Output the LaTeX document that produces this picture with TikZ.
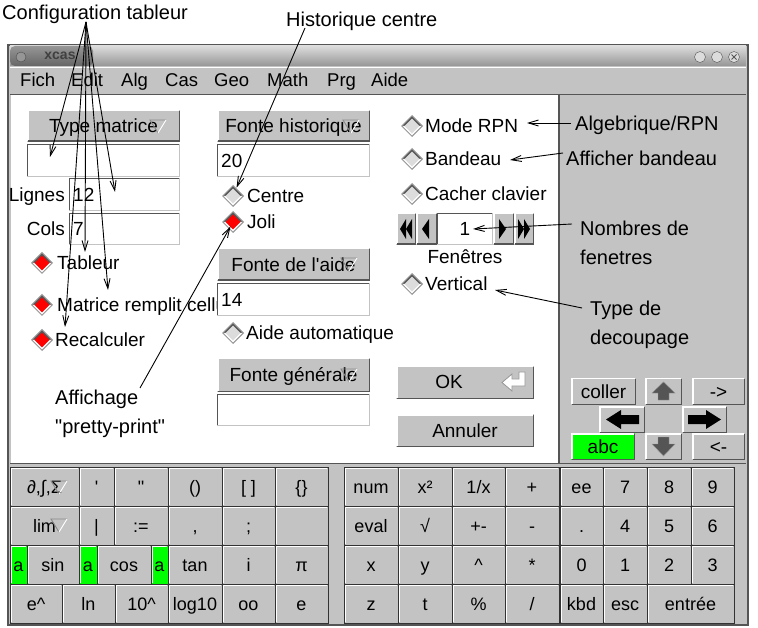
\documentclass[tikz,border=0pt]{standalone}
\usepackage{fontspec}
\setmainfont{Liberation Sans}[Ligatures=TeXOff]
\usetikzlibrary{arrows.meta}
\definecolor{silver}{RGB}{195,195,195}
\definecolor{pale}{RGB}{220,220,220}
\definecolor{ash}{RGB}{150,150,150}
\definecolor{graphite}{RGB}{85,85,85}
\definecolor{neon}{RGB}{0,255,0}
\definecolor{scarlet}{RGB}{255,0,0}
\newcommand{\uifont}{\fontsize{19}{22}\selectfont}
\tikzset{
  ui/.style={font=\uifont, inner sep=0pt, text height=13.6pt, text depth=0pt},
  menu/.style={ui, font=\fontsize{18.5}{22}\selectfont, anchor=west},
  note/.style={font=\fontsize{20}{24}\selectfont, inner sep=0pt, text height=14.3pt, text depth=0pt, anchor=west},
  fleche/.style={-{Straight Barb[length=10pt,width=6pt]}, line width=0.9pt},
}
% bouton en relief : [couleur]{nom}{x1}{y1}{x2}{y2}{texte}
\newcommand{\bouton}[7][silver]{%
  \fill[#1] (#3,#4) rectangle (#5,#6);
  \draw[white, line width=1.5pt] (#3+0.75,#6-0.75) -- (#3+0.75,#4+0.75) -- (#5-0.75,#4+0.75);
  \draw[graphite, line width=1.5pt] (#5-0.75,#4+0.75) -- (#5-0.75,#6-0.75) -- (#3+0.75,#6-0.75);
  \node[ui] (#2) at ({(#3+#5)/2},{(#4+#6)/2}) {#7};}
% touche du clavier
\newcommand{\touche}[7][silver]{%
  \filldraw[fill=#1, draw=black!80, line width=1pt] (#3,#4) rectangle (#5,#6);
  \draw[white, line width=1pt] (#3+1.5,#6-1.5) -- (#3+1.5,#4+1.5) -- (#5-1.5,#4+1.5);
  \node[ui, font=\fontsize{18}{22}\selectfont] (#2) at ({(#3+#5)/2},{(#4+#6)/2}) {#7};}
% champ de saisie
\newcommand{\champ}[6]{%
  \fill[white] (#2,#3) rectangle (#4,#5);
  \draw[graphite, line width=1pt] (#2+0.5,#5) -- (#2+0.5,#3+0.5) -- (#4,#3+0.5);
  \draw[silver, line width=1pt] (#4-0.5,#3) -- (#4-0.5,#5-0.5) -- (#2,#5-0.5);
  \node[ui, anchor=west] (#1) at (#2+4,{(#3+#5)/2}) {#6};}
% bouton radio
\newcommand{\radio}[4]{%
  \fill[ash] (#2-11,#3) -- (#2,#3-11) -- (#2+11,#3) -- (#2,#3+11) -- cycle;
  \fill[#4] (#2-8.5,#3) -- (#2,#3-8.5) -- (#2+8.5,#3) -- (#2,#3+8.5) -- cycle;
  \draw[graphite, line width=1.2pt] (#2-8.5,#3) -- (#2,#3-8.5) -- (#2+8.5,#3);
  \draw[white, line width=1.2pt] (#2+8.5,#3) -- (#2,#3+8.5) -- (#2-8.5,#3);
  \coordinate (#1) at (#2,#3);}
% petit triangle de menu
\newcommand{\menutri}[2]{%
  \draw[graphite!70, line width=0.9pt] (#1,#2+7) -- (#1-8,#2-6) -- (#1+8,#2-6);
  \draw[white, line width=0.9pt] (#1+8,#2-6) -- (#1,#2+7);}

\begin{document}
\begin{tikzpicture}[x=1pt, y=-1pt]
  \useasboundingbox (0,0) rectangle (758,628);
  \fill[white] (0,0) rectangle (758,628);
  % fenetre et barre de titre
  \filldraw[fill=silver, draw=graphite, line width=1.5pt] (8,45) rectangle (748,625);
  \shade[top color=pale, bottom color=ash] (10,46) rectangle (746,66);
  \shade[top color=ash, bottom color=graphite!90, rounded corners=5pt] (10,46) rectangle (93,66);
  \node[font=\fontsize{14}{16}\selectfont\bfseries, text=black!75, inner sep=0pt] (titre) at (60,56) {xcas};
  \filldraw[fill=ash, draw=black!70] (21,57) circle (5);
  \filldraw[fill=pale, draw=graphite] (700,57) circle (5.5);
  \filldraw[fill=pale, draw=graphite] (717,57) circle (5.5);
  \filldraw[fill=pale, draw=graphite] (734,57) circle (5.5);
  \draw[graphite, line width=0.8pt] (731.5,54.5) -- (736.5,59.5) (731.5,59.5) -- (736.5,54.5);
  % menu
  \draw[white] (10,67) -- (746,67);
  \draw[graphite, line width=1.2pt] (10,94.5) -- (746,94.5);
  \node[menu] (fich) at (20,80) {Fich};
  \node[menu] (edit) at (71,80) {Edit};
  \node[menu] (alg) at (121,80) {Alg};
  \node[menu] (cas) at (165,80) {Cas};
  \node[menu] (geo) at (214,80) {Geo};
  \node[menu] (math) at (267,80) {Math};
  \node[menu] (prg) at (327,80) {Prg};
  \node[menu] (aide) at (371,80) {Aide};
  % zone de configuration
  \fill[white] (11,95.5) rectangle (559,463);
  \draw[graphite, line width=1.2pt] (559,95) -- (559,463);
  \draw[graphite, line width=1pt] (10,463.5) -- (746,463.5);
  % colonne tableur
  \bouton{typemat}{27}{110}{180}{142}{Type matrice}
  \menutri{158}{126}
  \champ{typef}{27}{144}{180}{177}{}
  \node[ui, anchor=east] (lignes) at (65,195) {Lignes};
  \champ{lignesf}{69}{178}{180}{211}{12}
  \node[ui, anchor=east] (cols) at (65,229) {Cols};
  \champ{colsf}{69}{213}{180}{245}{7}
  \radio{rtableur}{42}{263}{scarlet}
  \node[ui, anchor=west] (tableur) at (57,263) {Tableur};
  \radio{rmatrice}{42}{305}{scarlet}
  \begin{scope}
    \clip (11,290) rectangle (216,320);
    \node[ui, anchor=west] (matrice) at (57,305) {Matrice remplit cellules};
  \end{scope}
  \radio{rrecalc}{42}{340}{scarlet}
  \node[ui, anchor=west] (recalc) at (55,340) {Recalculer};
  % colonne fontes
  \bouton{fhist}{217}{110}{370}{142}{Fonte historique}
  \menutri{351}{126}
  \champ{fhistf}{217}{144}{370}{177}{20}
  \radio{rcentre}{233}{196}{pale}
  \node[ui, anchor=west] (centre) at (247,196) {Centre};
  \radio{rjoli}{233}{222}{scarlet}
  \node[ui, anchor=west] (joli) at (247,222) {Joli};
  \bouton{faide}{217}{248}{370}{281}{Fonte de l'aide}
  \menutri{349}{264}
  \champ{faidef}{217}{283}{370}{316}{14}
  \radio{rauto}{233}{333}{pale}
  \node[ui, anchor=west] (auto) at (246,333) {Aide automatique};
  \bouton{fgen}{217}{358}{370}{392}{Fonte générale}
  \menutri{349}{375}
  \champ{fgenf}{217}{394}{370}{426}{}
  % colonne options
  \radio{rrpn}{412}{126}{pale}
  \node[ui, anchor=west] (rpn) at (425,126) {Mode RPN};
  \radio{rbandeau}{412}{159}{pale}
  \node[ui, anchor=west] (bandeau) at (425,159) {Bandeau};
  \radio{rcacher}{412}{194}{pale}
  \node[ui, anchor=west] (cacher) at (425,194) {Cacher clavier};
  \bouton{premier}{396}{213}{416}{245}{}
  \bouton{avant}{416}{213}{437}{245}{}
  \champ{nbf}{437}{213}{493}{245}{}
  \node[ui] (un) at (465,229) {1};
  \bouton{apres}{493}{213}{514}{245}{}
  \bouton{dernier}{514}{213}{534}{245}{}
  \fill (400,229) -- (406,219) -- (406,239) -- cycle;
  \fill (406,229) -- (412,219) -- (412,239) -- cycle;
  \fill (422,229) -- (429,219) -- (429,239) -- cycle;
  \fill (506,229) -- (499,219) -- (499,239) -- cycle;
  \fill (524,229) -- (518,219) -- (518,239) -- cycle;
  \fill (530,229) -- (524,219) -- (524,239) -- cycle;
  \node[ui] (fenetres) at (465,257) {Fenêtres};
  \radio{rvertical}{412}{284}{pale}
  \node[ui, anchor=west] (vertical) at (425,284) {Vertical};
  \bouton{ok}{396}{366}{534}{399}{}
  \node[ui] (oktxt) at (449,382) {OK};
  \draw[ash, fill=white, line width=0.8pt] (525,372) -- (525,386) -- (512,386) -- (512,391) -- (502,382.5) -- (512,374) -- (512,379) -- (519,379) -- (519,372) -- cycle;
  \bouton{annuler}{396}{414}{534}{447}{Annuler}
  % panneau de droite
  \bouton{coller}{571}{378}{636}{405}{coller}
  \bouton{haut}{645}{378}{682}{405}{}
  \bouton{vadroite}{692}{378}{745}{405}{->}
  \bouton{gauche}{599}{406}{645}{433}{}
  \bouton{droite}{682}{406}{727}{433}{}
  \bouton[neon]{abc}{571}{433}{635}{460}{abc}
  \bouton{bas}{645}{433}{682}{460}{}
  \bouton{vagauche}{692}{433}{745}{460}{<-}
  \filldraw[fill=graphite, draw=ash] (658,400) -- (658,393) -- (652,393) -- (663.5,382) -- (675,393) -- (669,393) -- (669,400) -- cycle;
  \filldraw[fill=graphite, draw=ash] (658,437) -- (658,444) -- (652,444) -- (663.5,456) -- (675,444) -- (669,444) -- (669,437) -- cycle;
  \fill[black] (639,415) -- (621,415) -- (621,410) -- (606,419.5) -- (621,429) -- (621,424) -- (639,424) -- cycle;
  \fill[black] (688,415) -- (706,415) -- (706,410) -- (721,419.5) -- (706,429) -- (706,424) -- (688,424) -- cycle;
  % clavier, rangee 1
  \touche{kdiff}{10}{467}{79}{506}{∂,∫,Σ\hspace{6pt}}
  \menutri{59}{487}
  \touche{kquote}{79}{467}{114}{506}{'}
  \touche{kdquote}{114}{467}{168}{506}{"}
  \touche{kpar}{168}{467}{222}{506}{()}
  \touche{kcroch}{222}{467}{275}{506}{[ ]}
  \touche{kacc}{275}{467}{328}{506}{\{\}}
  \touche{knum}{344}{467}{398}{506}{num}
  \touche{kcarre}{398}{467}{452}{506}{x²}
  \touche{kinv}{452}{467}{505}{506}{1/x}
  \touche{kplus}{505}{467}{559}{506}{+}
  \touche{kee}{560}{467}{603}{506}{ee}
  \touche{ksept}{603}{467}{647}{506}{7}
  \touche{khuit}{647}{467}{691}{506}{8}
  \touche{kneuf}{691}{467}{734}{506}{9}
  % rangee 2
  \touche{klim}{10}{506}{79}{545}{lim\hspace{12pt}}
  \menutri{59}{525}
  \touche{kbarre}{79}{506}{114}{545}{|}
  \touche{kaff}{114}{506}{168}{545}{:=}
  \touche{kvirg}{168}{506}{222}{545}{,}
  \touche{kpvirg}{222}{506}{275}{545}{;}
  \touche{kvide}{275}{506}{328}{545}{}
  \touche{keval}{344}{506}{398}{545}{eval}
  \touche{kracine}{398}{506}{452}{545}{√}
  \touche{kpm}{452}{506}{505}{545}{+-}
  \touche{kmoins}{505}{506}{559}{545}{-}
  \touche{kpoint}{560}{506}{603}{545}{.}
  \touche{kquatre}{603}{506}{647}{545}{4}
  \touche{kcinq}{647}{506}{691}{545}{5}
  \touche{ksix}{691}{506}{734}{545}{6}
  % rangee 3
  \touche[neon]{kasin}{10}{545}{27}{584}{a}
  \touche{ksin}{27}{545}{79}{584}{sin}
  \touche[neon]{kacos}{79}{545}{97}{584}{a}
  \touche{kcos}{97}{545}{151}{584}{cos}
  \touche[neon]{katan}{151}{545}{168}{584}{a}
  \touche{ktan}{168}{545}{222}{584}{tan}
  \touche{ki}{222}{545}{275}{584}{i}
  \touche{kpi}{275}{545}{328}{584}{π}
  \touche{kx}{344}{545}{398}{584}{x}
  \touche{ky}{398}{545}{452}{584}{y}
  \touche{kpuiss}{452}{545}{505}{584}{\textasciicircum}
  \touche{kfois}{505}{545}{559}{584}{*}
  \touche{kzero}{560}{545}{603}{584}{0}
  \touche{kun}{603}{545}{647}{584}{1}
  \touche{kdeux}{647}{545}{691}{584}{2}
  \touche{ktrois}{691}{545}{734}{584}{3}
  % rangee 4
  \touche{kexp}{10}{584}{62}{623}{e\textasciicircum}
  \touche{kln}{62}{584}{115}{623}{ln}
  \touche{kdix}{115}{584}{168}{623}{10\textasciicircum}
  \touche{klog}{168}{584}{222}{623}{log10}
  \touche{kinf}{222}{584}{275}{623}{oo}
  \touche{ke}{275}{584}{328}{623}{e}
  \touche{kz}{344}{584}{398}{623}{z}
  \touche{kt}{398}{584}{452}{623}{t}
  \touche{kpct}{452}{584}{505}{623}{\%}
  \touche{kdiv}{505}{584}{559}{623}{/}
  \touche{kkbd}{560}{584}{603}{623}{kbd}
  \touche{kesc}{603}{584}{647}{623}{esc}
  \touche{kentree}{647}{584}{734}{623}{entrée}
  % annotations
  \node[note] (conftab) at (2,12) {Configuration tableur};
  \node[note] (histo) at (286,19) {Historique centre};
  \node[note] (algrpn) at (575,123) {Algebrique/RPN};
  \node[note] (affband) at (566,158) {Afficher bandeau};
  \node[note] (nbfen) at (580,228) {Nombres de};
  \node[note] (nbfenb) at (580,257) {fenetres};
  \node[note] (typdec) at (590,308) {Type de};
  \node[note] (typdecb) at (590,337) {decoupage};
  \node[note] (affpp) at (55,397) {Affichage};
  \node[note] (affppb) at (55,426) {"pretty-print"};
  \coordinate (confpt) at (86,22);
  \coordinate (c1) at (50,157);
  \coordinate (c2) at (115,192);
  \coordinate (c3) at (85,252);
  \coordinate (c4) at (108,290);
  \coordinate (c5) at (65,327);
  \coordinate (histpt) at (305,28);
  \coordinate (rpnpt) at (571,123);
  \coordinate (r1) at (527,123);
  \coordinate (bandpt) at (563,153);
  \coordinate (b1) at (510,160);
  \coordinate (nbpt) at (572,224);
  \coordinate (n1) at (473,229);
  \coordinate (decpt) at (582,308);
  \coordinate (d1) at (495,290);
  \coordinate (affpt) at (140,388);
  \draw[fleche] (confpt) -- (c1);
  \draw[fleche] (confpt) -- (c2);
  \draw[fleche] (confpt) -- (c3);
  \draw[fleche] (confpt) -- (c4);
  \draw[fleche] (confpt) -- (c5);
  \draw[fleche, shorten >=9pt] (histpt) -- (rcentre);
  \draw[fleche] (rpnpt) -- (r1);
  \draw[fleche] (bandpt) -- (b1);
  \draw[fleche] (nbpt) -- (n1);
  \draw[fleche] (decpt) -- (d1);
  \draw[fleche, shorten >=5pt] (affpt) -- (rjoli);
\end{tikzpicture}
\end{document}
